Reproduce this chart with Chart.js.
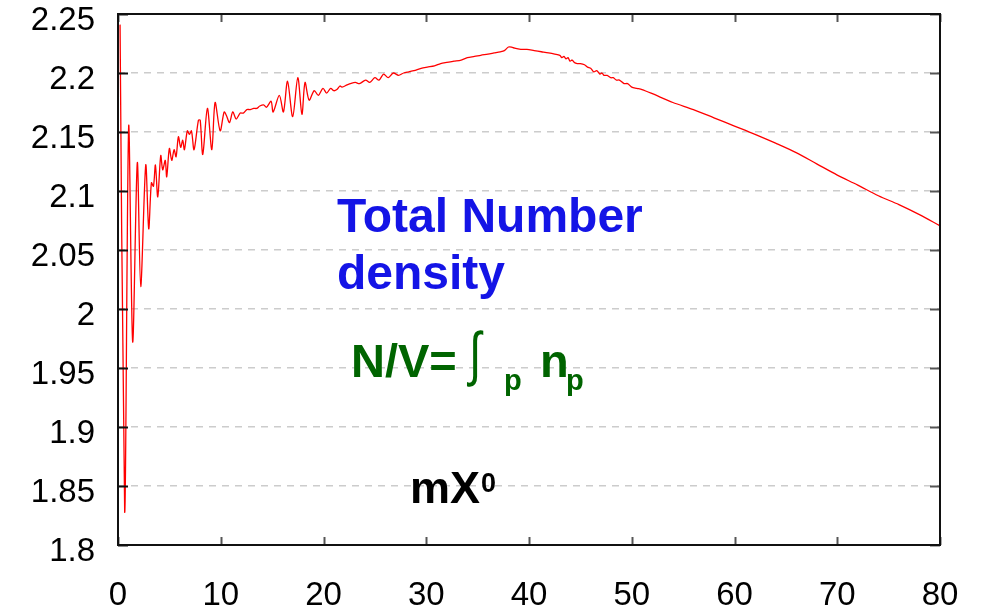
<!DOCTYPE html>
<html>
<head>
<meta charset="utf-8">
<script src="https://cdn.jsdelivr.net/npm/chart.js@4/dist/chart.umd.min.js"></script>
<style>
  html, body { margin: 0; padding: 0; background: #fff; }
  #wrap { width: 987px; height: 608px; }
</style>
</head>
<body>
<div id="wrap"><canvas id="c" width="987" height="608"></canvas></div>
<script>
// ---- data ----
const xValues = [
  0.2, 0.65, 1.04, 1.43, 1.88, 2.21, 2.70, 2.99, 3.25, 3.45, 3.64, 3.87, 4.16, 4.35, 4.60, 4.74,
  5.00, 5.23, 5.46, 5.65, 5.88, 6.10, 6.30, 6.46, 6.75, 6.95, 7.15, 7.40, 7.83, 8.00, 8.25, 8.70,
  9.13, 9.45, 9.94, 10.33, 10.55, 10.85, 11.17, 11.50, 11.90, 12.20, 12.54, 12.87, 13.20, 13.50,
  13.80, 14.17, 14.45, 14.90, 15.10, 15.70, 16.10, 16.50, 17.00, 17.50, 17.90, 18.20, 18.60, 19.10,
  19.50, 19.95, 20.30, 20.70, 21.00, 21.30, 21.60, 21.80, 22.30, 22.60, 23.10, 23.50, 24.10, 24.50,
  25.00, 25.40, 25.85, 26.30, 26.80, 27.30, 27.80, 28.30, 28.80, 29.50, 30.10, 30.80, 31.40, 32.00,
  32.70, 33.40, 34.00, 34.70, 35.30, 36.00, 36.60, 37.20, 37.60, 38.00, 38.30, 38.60, 39.20, 39.80,
  40.50, 41.20, 41.90, 42.50, 43.00, 43.20, 43.40, 43.60, 43.80, 44.00, 44.20, 44.40, 44.70, 45.00,
  45.40, 45.70, 46.00, 46.30, 46.60, 46.90, 47.10, 47.30, 47.60, 47.95, 48.20, 48.50, 48.80, 49.25,
  49.60, 50.00, 50.50, 51.00, 52.00, 54.00, 56.00, 58.00, 60.00, 62.00, 64.00, 66.00, 68.00, 70.00,
  72.00, 74.00, 76.00, 78.00, 80.00
];
const densityValues = [
  2.241, 1.828, 2.155, 1.972, 2.124, 2.019, 2.122, 2.068, 2.107, 2.104, 2.122, 2.095, 2.130, 2.118, 2.126, 2.112,
  2.136, 2.126, 2.135, 2.129, 2.146, 2.137, 2.143, 2.135, 2.151, 2.148, 2.151, 2.135, 2.160, 2.160, 2.131, 2.170,
  2.135, 2.175, 2.151, 2.167, 2.164, 2.158, 2.167, 2.161, 2.166, 2.166, 2.169, 2.169, 2.170, 2.170,
  2.172, 2.173, 2.171, 2.176, 2.167, 2.181, 2.167, 2.193, 2.163, 2.196, 2.165, 2.192, 2.177, 2.185,
  2.181, 2.187, 2.183, 2.187, 2.185, 2.186, 2.189, 2.188, 2.190, 2.191, 2.192, 2.191, 2.194, 2.192,
  2.196, 2.194, 2.199, 2.196, 2.200, 2.198, 2.200, 2.201, 2.202, 2.204, 2.205, 2.206, 2.208, 2.209,
  2.210, 2.211, 2.213, 2.214, 2.215, 2.216, 2.217, 2.218, 2.219, 2.222, 2.222, 2.221, 2.220, 2.220,
  2.219, 2.218, 2.217, 2.216, 2.215, 2.213, 2.214, 2.212, 2.213, 2.210, 2.211, 2.209, 2.208, 2.208,
  2.207, 2.205, 2.204, 2.201, 2.202, 2.199, 2.200, 2.198, 2.198, 2.196, 2.196, 2.194, 2.194, 2.191,
  2.191, 2.188, 2.187, 2.186, 2.1825, 2.175, 2.169, 2.162, 2.155, 2.148, 2.1405, 2.1325, 2.123, 2.1135,
  2.105, 2.096, 2.0885, 2.080, 2.0705
];
const xTicks = [0, 10, 20, 30, 40, 50, 60, 70, 80];
const xTickLabels = ['0', '10', '20', '30', '40', '50', '60', '70', '80'];
const yTicks = [1.8, 1.85, 1.9, 1.95, 2.0, 2.05, 2.1, 2.15, 2.2, 2.25];
const yTickLabels = ['1.8', '1.85', '1.9', '1.95', '2', '2.05', '2.1', '2.15', '2.2', '2.25'];

const FONT = "'Liberation Sans', Arial, sans-serif";

const points = xValues.map((x, i) => ({ x: x, y: densityValues[i] }));

const framePlugin = {
  id: 'frame',
  afterDatasetsDraw(chart) {
    const ctx = chart.ctx;
    const a = chart.chartArea;
    const xs = chart.scales.x, ys = chart.scales.y;
    ctx.save();
    // inner tick marks
    ctx.lineWidth = 2;
    ctx.strokeStyle = '#111';
    yTicks.forEach(v => {
      const py = Math.round(ys.getPixelForValue(v)) + 0.5;
      ctx.beginPath(); ctx.moveTo(a.left, py); ctx.lineTo(a.left + 10, py); ctx.stroke();
    });
    ctx.strokeStyle = '#555';
    yTicks.forEach(v => {
      const py = Math.round(ys.getPixelForValue(v)) + 0.5;
      ctx.beginPath(); ctx.moveTo(a.right - 10, py); ctx.lineTo(a.right, py); ctx.stroke();
    });
    xTicks.forEach(v => {
      const px = Math.round(xs.getPixelForValue(v)) + 0.5;
      ctx.beginPath(); ctx.moveTo(px, a.bottom); ctx.lineTo(px, a.bottom - 8); ctx.stroke();
      ctx.beginPath(); ctx.moveTo(px, a.top); ctx.lineTo(px, a.top + 8); ctx.stroke();
    });
    // frame
    ctx.strokeStyle = '#111';
    ctx.lineWidth = 2;
    ctx.strokeRect(a.left, a.top, a.right - a.left, a.bottom - a.top);

    // annotations
    ctx.textBaseline = 'alphabetic';
    ctx.textAlign = 'left';
    ctx.fillStyle = '#1414e6';
    ctx.font = 'bold 48px ' + FONT;
    ctx.fillText('Total Number', 337, 232);
    ctx.fillText('density', 337, 289);

    ctx.fillStyle = '#006400';
    ctx.font = 'bold 47px ' + FONT;
    ctx.fillText('N/V=', 351, 377);
    ctx.save();
    ctx.translate(469, 377);
    ctx.scale(1, 1.35);
    ctx.font = '44px ' + FONT;
    ctx.fillText('\u222B', 0, -2);
    ctx.restore();
    ctx.font = 'bold 29px ' + FONT;
    ctx.fillText('p', 504, 390);
    ctx.font = 'bold 47px ' + FONT;
    ctx.fillText('n', 540, 377);
    ctx.font = 'bold 29px ' + FONT;
    ctx.fillText('p', 566, 390);

    ctx.fillStyle = '#000';
    ctx.font = 'bold 45px ' + FONT;
    ctx.fillText('mX', 410, 503);
    ctx.font = 'bold 27px ' + FONT;
    ctx.fillText('0', 481, 492);
    ctx.restore();
  }
};

new Chart(document.getElementById('c'), {
  type: 'line',
  data: {
    datasets: [{
      data: points,
      borderColor: '#ff0000',
      borderWidth: 1.3,
      pointRadius: 0,
      tension: 0.3,
      fill: false
    }]
  },
  options: {
    responsive: false,
    animation: false,
    devicePixelRatio: 1,
    layout: { padding: { top: 14, right: 47, left: 0, bottom: 0 } },
    plugins: { legend: { display: false }, tooltip: { enabled: false } },
    scales: {
      x: {
        type: 'linear',
        min: 0, max: 80,
        afterBuildTicks: s => { s.ticks = xTicks.map(v => ({ value: v })); },
        afterFit: s => { s.height = 63; s.paddingLeft = 0; s.paddingRight = 0; },
        grid: { display: false, drawTicks: false },
        border: { display: false },
        ticks: {
          color: '#000',
          font: { family: FONT, size: 33 },
          padding: 31,
          maxRotation: 0,
          autoSkip: false,
          callback: (v, i) => xTickLabels[i]
        }
      },
      y: {
        type: 'linear',
        min: 1.8, max: 2.25,
        afterBuildTicks: s => { s.ticks = yTicks.map(v => ({ value: v })); },
        afterFit: s => { s.width = 118; s.paddingTop = 0; s.paddingBottom = 0; },
        grid: {
          color: '#cccccc',
          lineWidth: 1.5,
          drawTicks: false
        },
        border: { display: false, dash: [7, 6] },
        ticks: {
          color: '#000',
          font: { family: FONT, size: 33 },
          padding: 23,
          labelOffset: 7,
          autoSkip: false,
          callback: (v, i) => yTickLabels[i]
        }
      }
    }
  },
  plugins: [framePlugin]
});
</script>
</body>
</html>
